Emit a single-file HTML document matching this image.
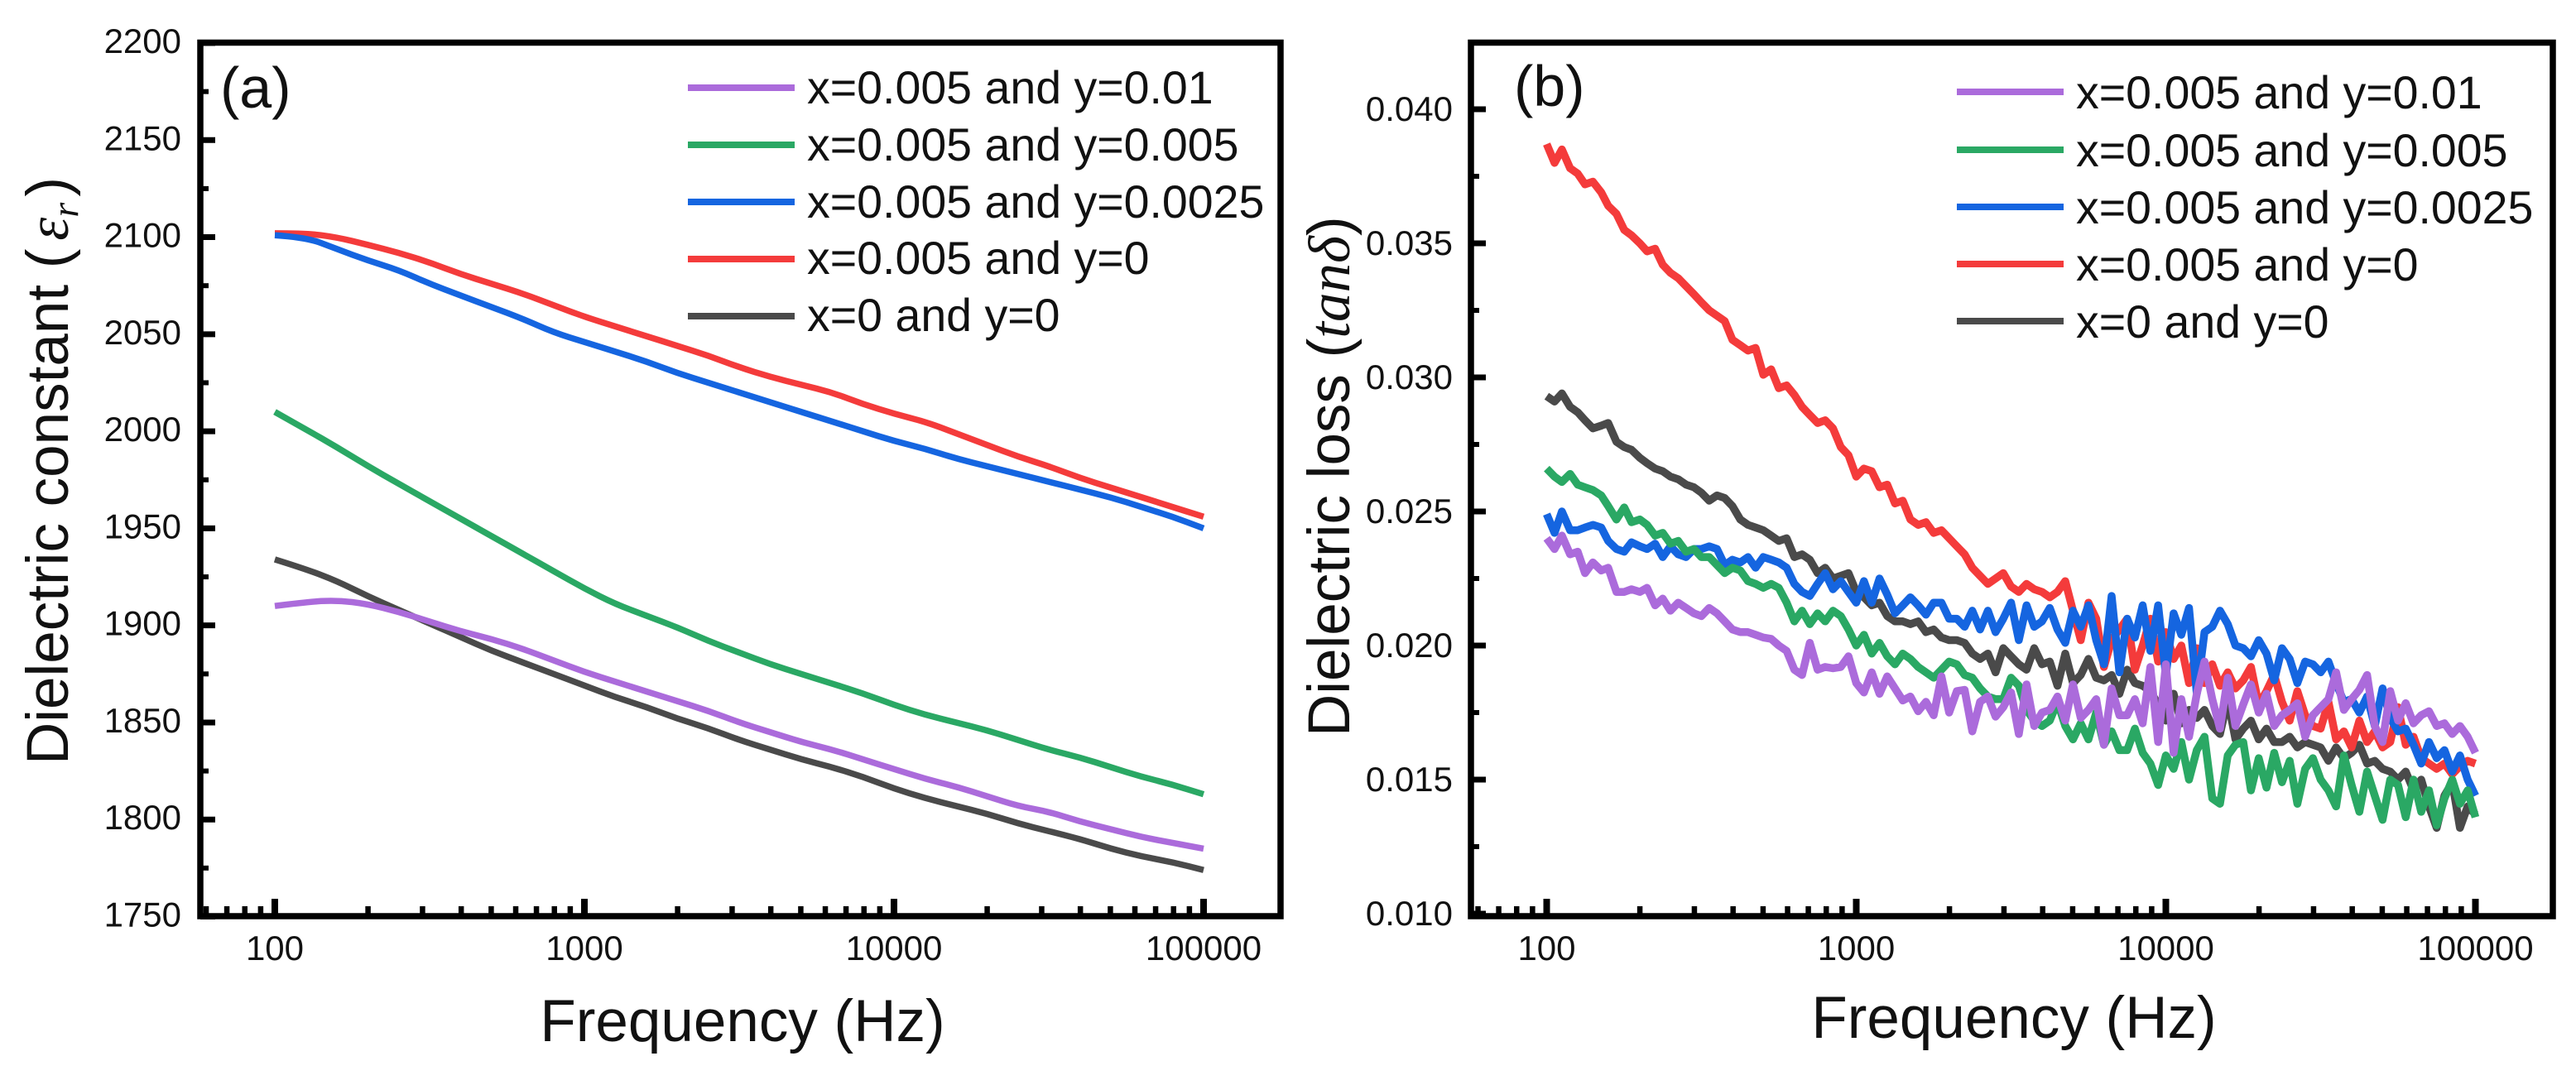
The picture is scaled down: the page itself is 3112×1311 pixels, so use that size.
<!DOCTYPE html>
<html lang="en">
<head>
<meta charset="utf-8">
<title>Dielectric constant and dielectric loss versus frequency</title>
<style>
html,body{margin:0;padding:0;background:#fff;}
svg{display:block;}
text{font-family:"Liberation Sans",Arial,sans-serif;fill:#111;}
.tick-label{font-size:42px;}
.axis-title{font-size:71px;}
.legend-text{font-size:55.5px;}
.panel-tag{font-size:70px;}
.math{font-family:"Liberation Serif",serif;font-style:italic;}
</style>
</head>
<body>
<svg id="fig" xmlns="http://www.w3.org/2000/svg" width="3112" height="1311" viewBox="0 0 3112 1311">
  <rect x="0" y="0" width="3112" height="1311" fill="#fff"/>

  <g id="panelA">
    <g id="seriesA"></g>
    <g id="ticksA"></g>
    <rect x="242" y="51.5" width="1305" height="1055.5" fill="none" stroke="#000" stroke-width="7.5"/>
    <text class="panel-tag" x="266" y="130">(a)</text>
    <text class="axis-title" x="897" y="1258" text-anchor="middle">Frequency (Hz)</text>
    <text class="axis-title" transform="translate(82,924) rotate(-90)">Dielectric constant (<tspan class="math" dx="10">ε</tspan><tspan class="math" dy="12" font-size="46">r</tspan><tspan dy="-12" dx="7">)</tspan></text>
    <g>
      <line x1="831" x2="960" y1="106" y2="106" stroke="#ab6bdb" stroke-width="8"/>
      <text class="legend-text" x="975" y="125">x=0.005 and y=0.01</text>
      <line x1="831" x2="960" y1="175" y2="175" stroke="#2aa864" stroke-width="8"/>
      <text class="legend-text" x="975" y="194">x=0.005 and y=0.005</text>
      <line x1="831" x2="960" y1="244" y2="244" stroke="#1565e0" stroke-width="8"/>
      <text class="legend-text" x="975" y="263">x=0.005 and y=0.0025</text>
      <line x1="831" x2="960" y1="313" y2="313" stroke="#f43b3b" stroke-width="8"/>
      <text class="legend-text" x="975" y="331">x=0.005 and y=0</text>
      <line x1="831" x2="960" y1="382" y2="382" stroke="#4a4a4a" stroke-width="8"/>
      <text class="legend-text" x="975" y="400">x=0 and y=0</text>
    </g>
  </g>

  <g id="panelB">
    <g id="seriesB"></g>
    <g id="ticksB"></g>
    <rect x="1777" y="51.5" width="1307" height="1055.5" fill="none" stroke="#000" stroke-width="7.5"/>
    <text class="panel-tag" x="1829" y="128">(b)</text>
    <text class="axis-title" x="2433" y="1254" text-anchor="middle">Frequency (Hz)</text>
    <text class="axis-title" transform="translate(1630,890) rotate(-90)">Dielectric loss (<tspan class="math">tanδ</tspan>)</text>
    <g>
      <line x1="2364" x2="2493" y1="111" y2="111" stroke="#ab6bdb" stroke-width="8"/>
      <text class="legend-text" x="2508" y="131">x=0.005 and y=0.01</text>
      <line x1="2364" x2="2493" y1="181" y2="181" stroke="#2aa864" stroke-width="8"/>
      <text class="legend-text" x="2508" y="201">x=0.005 and y=0.005</text>
      <line x1="2364" x2="2493" y1="250" y2="250" stroke="#1565e0" stroke-width="8"/>
      <text class="legend-text" x="2508" y="270">x=0.005 and y=0.0025</text>
      <line x1="2364" x2="2493" y1="319" y2="319" stroke="#f43b3b" stroke-width="8"/>
      <text class="legend-text" x="2508" y="339">x=0.005 and y=0</text>
      <line x1="2364" x2="2493" y1="388" y2="388" stroke="#4a4a4a" stroke-width="8"/>
      <text class="legend-text" x="2508" y="408">x=0 and y=0</text>
    </g>
  </g>
</svg>

<script>
// ---------- shared axis values ----------
const xMajorTicks = [100, 1000, 10000, 100000];
const xMinorTicks = [60,70,80,90,200,300,400,500,600,700,800,900,2000,3000,4000,5000,6000,7000,8000,9000,20000,30000,40000,50000,60000,70000,80000,90000];
const xTickLabels = ["100","1000","10000","100000"];

// ---------- panel (a): dielectric constant ----------
const freqA = [100,126,158,200,251,316,398,501,631,794,1000,1259,1585,1995,2512,3162,3981,5012,6310,7943,10000,12589,15849,19953,25119,31623,39811,50119,63096,79433,100000];
const constY001 = [1910,1912,1913,1911,1907,1902,1897,1893,1888,1882,1876,1871,1866,1861,1856,1850,1845,1840,1836,1831,1826,1821,1817,1812,1807,1804,1799,1795,1791,1788,1785];
const constY0005 = [2010,2001,1992,1982,1973,1964,1955,1946,1937,1928,1919,1911,1905,1899,1892,1886,1880,1875,1870,1865,1859,1854,1850,1846,1841,1836,1832,1827,1822,1818,1813];
const constY00025 = [2101,2100,2094,2088,2083,2076,2070,2064,2058,2051,2046,2041,2036,2030,2025,2020,2015,2010,2005,2000,1995,1991,1986,1982,1978,1974,1970,1966,1961,1956,1950];
const constY0 = [2102,2102,2100,2096,2092,2087,2081,2076,2071,2065,2059,2054,2049,2044,2039,2033,2028,2024,2020,2014,2009,2005,1999,1993,1987,1982,1976,1971,1966,1961,1956];
const constX0 = [1934,1929,1923,1915,1908,1901,1894,1887,1881,1875,1869,1863,1858,1852,1847,1841,1836,1831,1827,1822,1816,1811,1807,1803,1798,1794,1790,1785,1781,1778,1774];
const yMajorA = [1750,1800,1850,1900,1950,2000,2050,2100,2150,2200];
const yMinorA = [1775,1825,1875,1925,1975,2025,2075,2125,2175];
const yLabelsA = ["1750","1800","1850","1900","1950","2000","2050","2100","2150","2200"];

// ---------- panel (b): dielectric loss (tan delta, in units of 0.001) ----------
const freqB = [100,106,112,119,126,133,141,150,158,168,178,188,200,211,224,237,251,266,282,299,316,335,355,376,398,422,447,473,501,531,562,596,631,668,708,750,794,841,891,944,
1000,1059,1122,1189,1259,1334,1413,1496,1585,1679,1778,1884,1995,2113,2239,2371,2512,2661,2818,2985,3162,3350,3548,3758,3981,4217,4467,4732,5012,5309,5623,5957,6310,6683,7079,7499,7943,8414,8913,9441,
10000,10593,11220,11885,12589,13335,14125,14962,15849,16788,17783,18836,19953,21135,22387,23714,25119,26607,28184,29854,31623,33497,35481,37584,39811,42170,44668,47315,50119,53088,56234,59566,63096,66834,70795,74989,79433,84140,89125,94406,100000];
const lossY001 = [24.0,23.6,24.1,23.4,23.5,22.7,23.1,22.8,22.9,22.0,22.0,22.1,22.0,22.15,21.5,21.75,21.3,21.6,21.4,21.2,21.1,21.4,21.2,20.9,20.6,20.5,20.5,20.4,20.3,20.25,20.0,19.8,19.1,18.9,20.1,19.1,19.2,19.15,19.2,19.6,18.6,18.25,19.0,18.2,18.85,18.4,17.95,18.1,17.55,17.9,17.4,18.85,17.5,18.3,18.35,16.8,17.9,18.1,17.35,17.7,18.25,16.7,18.55,17.0,17.5,17.6,18.1,17.2,18.55,17.3,17.6,18.0,16.3,18.4,17.4,17.4,18.0,17.1,19.2,16.4,19.3,16.0,18.0,16.6,18.2,19.4,18.0,16.9,18.8,17.0,17.8,18.55,17.5,18.2,17.0,17.4,17.6,17.85,16.6,17.4,17.7,18.0,19.0,17.6,18.0,18.35,18.9,17.0,16.4,18.3,17.2,17.85,17.1,17.4,17.55,17.0,17.1,16.7,17.0,16.6,16.0];
const lossY0005 = [26.6,26.3,26.1,26.4,26.0,25.9,25.8,25.6,25.2,24.7,25.15,24.6,24.7,24.5,24.1,24.2,23.8,23.9,23.5,23.6,23.3,23.3,23.0,22.7,22.9,22.8,22.4,22.3,22.15,22.3,22.15,21.6,20.9,21.3,20.8,21.2,20.9,21.3,21.1,20.6,20.0,20.4,19.7,20.1,19.6,19.3,19.7,19.5,19.2,19.0,18.8,19.1,19.4,19.3,18.9,18.8,18.4,18.1,18.0,18.0,18.8,18.5,17.6,17.2,17.0,17.2,17.9,17.0,16.5,17.1,16.5,17.5,16.3,16.8,16.1,16.1,16.9,16.0,15.6,14.8,15.9,15.4,16.4,15.0,16.1,16.6,14.3,14.1,15.9,16.3,16.4,14.6,15.8,14.7,16.0,14.9,15.7,14.1,15.4,15.8,15.0,14.6,14.0,15.9,14.8,13.8,15.3,14.4,13.5,15.0,14.8,13.6,15.0,13.8,14.6,13.3,14.3,15.0,14.1,14.6,13.6];
const lossY00025 = [24.9,24.2,25.0,24.3,24.3,24.4,24.5,24.4,23.9,23.6,23.5,23.85,23.7,23.6,23.8,23.3,23.7,23.4,23.3,23.6,23.6,23.7,23.6,23.0,23.2,23.1,23.3,22.9,23.3,23.2,23.1,22.9,22.3,22.0,21.85,22.3,22.7,22.1,22.4,22.0,21.6,22.4,21.6,22.5,21.9,21.2,21.5,21.8,21.5,21.15,21.6,21.6,21.0,21.0,20.7,21.3,20.6,21.3,20.5,21.0,21.6,20.2,21.5,20.7,20.9,21.4,20.6,20.1,21.3,20.7,21.5,20.2,19.3,21.85,19.0,21.0,20.3,21.5,19.8,21.5,18.9,21.2,20.4,21.4,18.2,20.5,20.7,21.3,20.8,20.0,19.9,19.6,20.2,19.7,18.7,19.9,19.5,18.6,19.4,19.3,19.0,19.4,18.6,17.9,18.0,17.5,18.1,17.0,18.4,17.3,16.8,16.9,16.3,15.6,16.4,15.8,16.1,15.3,15.9,15.0,14.4];
const lossY0 = [38.7,38.0,38.5,37.8,37.6,37.2,37.3,36.9,36.4,36.1,35.5,35.3,35.0,34.7,34.8,34.2,33.9,33.7,33.4,33.1,32.8,32.5,32.3,32.1,31.4,31.2,31.0,31.1,30.1,30.3,29.6,29.7,29.35,28.9,28.6,28.3,28.4,28.1,27.4,27.1,26.3,26.6,26.5,25.9,26.0,25.3,25.4,24.7,24.5,24.6,24.2,24.3,24.0,23.7,23.4,22.9,22.6,22.3,22.5,22.7,22.2,22.0,22.3,22.1,22.0,21.8,22.0,22.4,21.3,20.2,21.6,21.0,19.2,20.2,20.6,21.0,19.1,20.0,21.0,19.4,20.5,19.5,20.0,18.6,19.9,18.6,19.3,18.5,19.0,18.4,18.7,19.2,17.8,18.3,18.9,17.9,17.2,18.3,17.4,17.0,16.9,17.9,16.5,16.8,16.2,17.2,16.4,16.8,16.2,16.4,17.7,16.3,16.6,15.8,15.6,15.4,15.6,15.2,15.5,15.7,15.6];
const lossX0 = [29.3,29.1,29.4,28.9,28.7,28.4,28.1,28.2,28.3,27.6,27.4,27.3,27.0,26.8,26.6,26.5,26.3,26.2,26.0,25.9,25.7,25.4,25.6,25.5,25.2,24.7,24.5,24.4,24.3,24.1,23.9,24.0,23.3,23.4,23.2,22.7,22.9,22.5,22.6,22.7,22.0,21.8,21.5,21.6,21.1,20.9,20.9,20.8,20.9,20.5,20.6,20.3,20.2,20.2,20.1,19.7,19.5,19.7,19.0,19.9,19.6,19.3,19.1,19.9,19.3,19.4,18.5,19.7,18.6,18.9,19.5,18.8,18.7,18.9,18.2,19.1,18.6,18.5,18.3,17.8,17.2,18.2,17.1,17.6,17.3,17.6,17.0,16.7,18.0,16.5,16.9,17.2,16.5,16.9,16.4,16.4,16.6,16.2,16.4,16.3,16.2,15.7,16.2,15.8,16.0,16.3,15.6,15.7,15.4,15.3,15.0,15.3,14.6,15.0,14.0,13.2,14.4,14.9,13.2,14.0,13.7];
const yMajorB = [10,15,20,25,30,35,40];
const yMinorB = [12.5,17.5,22.5,27.5,32.5,37.5];
const yLabelsB = ["0.010","0.015","0.020","0.025","0.030","0.035","0.040"];

// ---------- axis functions ----------
const SVGNS = "http://www.w3.org/2000/svg";
function xA(f){ return 332 + (Math.log10(f) - 2) * 374; }
function xB(f){ return 1868.5 + (Math.log10(f) - 2) * 374; }
function yA(v){ return 1107.5 - (v - 1750) * (1055.5 / 450); }
function yB(v){ return 132 + (40 - v) * 32.4; }

function makeLine(x1, y1, x2, y2, w){
  const el = document.createElementNS(SVGNS, "line");
  el.setAttribute("x1", x1);
  el.setAttribute("y1", y1);
  el.setAttribute("x2", x2);
  el.setAttribute("y2", y2);
  el.setAttribute("stroke", "#000");
  el.setAttribute("stroke-width", w);
  return el;
}
function makeLabel(x, y, anchor, str){
  const el = document.createElementNS(SVGNS, "text");
  el.setAttribute("class", "tick-label");
  el.setAttribute("x", x);
  el.setAttribute("y", y);
  el.setAttribute("text-anchor", anchor);
  el.textContent = str;
  return el;
}
function drawTicks(group, xs, ys, frameLeft, frameBottom, yMaj, yMin, yLabs, labelRight, dyLabel){
  xMajorTicks.forEach(function(f, i){
    const t = makeLine(xs(f), frameBottom, xs(f), frameBottom - 21, 8);
    
    
    group.appendChild(t);
    const l = makeLabel(xs(f), 1160, "middle", xTickLabels[i]);
    
    
    group.appendChild(l);
  });
  xMinorTicks.forEach(function(f){
    const t = makeLine(xs(f), frameBottom, xs(f), frameBottom - 12, 6.5);
    
    
    group.appendChild(t);
  });
  yMaj.forEach(function(v, i){
    const t = makeLine(frameLeft, ys(v), frameLeft + 18, ys(v), 7);
    
    
    group.appendChild(t);
    const l = makeLabel(labelRight, ys(v) + dyLabel, "end", yLabs[i]);
    
    
    group.appendChild(l);
  });
  yMin.forEach(function(v){
    const t = makeLine(frameLeft, ys(v), frameLeft + 10, ys(v), 6);
    
    
    group.appendChild(t);
  });
}
// smooth=true rounds the joints with quadratic segments through point midpoints (panel a).
function drawSeries(group, freqs, vals, xs, ys, color, width, name, smooth){
  const pts = vals.map(function(v, i){ return [xs(freqs[i]), ys(v)]; });
  let d = "M" + pts[0][0].toFixed(1) + " " + pts[0][1].toFixed(1);
  for (let i = 1; i < pts.length; i++) {
    if (smooth && i < pts.length - 1) {
      const mx = (pts[i][0] + pts[i + 1][0]) / 2;
      const my = (pts[i][1] + pts[i + 1][1]) / 2;
      d += "Q" + pts[i][0].toFixed(1) + " " + pts[i][1].toFixed(1) + " " + mx.toFixed(1) + " " + my.toFixed(1);
    } else {
      d += "L" + pts[i][0].toFixed(1) + " " + pts[i][1].toFixed(1);
    }
  }
  const p = document.createElementNS(SVGNS, "path");
  p.setAttribute("d", d);
  p.setAttribute("fill", "none");
  p.setAttribute("stroke", color);
  p.setAttribute("stroke-width", width);
  p.setAttribute("stroke-linejoin", "round");
  
  
  group.appendChild(p);
}

const gA = document.getElementById("seriesA");
drawSeries(gA, freqA, constX0, xA, yA, "#4a4a4a", 7.5, "series-a-x0-y0", true);
drawSeries(gA, freqA, constY0, xA, yA, "#f43b3b", 7.5, "series-a-y0", true);
drawSeries(gA, freqA, constY00025, xA, yA, "#1565e0", 7.5, "series-a-y00025", true);
drawSeries(gA, freqA, constY0005, xA, yA, "#2aa864", 7.5, "series-a-y0005", true);
drawSeries(gA, freqA, constY001, xA, yA, "#ab6bdb", 7.5, "series-a-y001", true);

const gB = document.getElementById("seriesB");
drawSeries(gB, freqB, lossX0, xB, yB, "#4a4a4a", 9.5, "series-b-x0-y0", false);
drawSeries(gB, freqB, lossY0, xB, yB, "#f43b3b", 9.5, "series-b-y0", false);
drawSeries(gB, freqB, lossY00025, xB, yB, "#1565e0", 9.5, "series-b-y00025", false);
drawSeries(gB, freqB, lossY0005, xB, yB, "#2aa864", 9.5, "series-b-y0005", false);
drawSeries(gB, freqB, lossY001, xB, yB, "#ab6bdb", 9.5, "series-b-y001", false);

drawTicks(document.getElementById("ticksA"), xA, yA, 242, 1107, yMajorA, yMinorA, yLabelsA, 219, 12);
drawTicks(document.getElementById("ticksB"), xB, yB, 1777, 1107, yMajorB, yMinorB, yLabelsB, 1755, 14);
</script>
</body>
</html>
